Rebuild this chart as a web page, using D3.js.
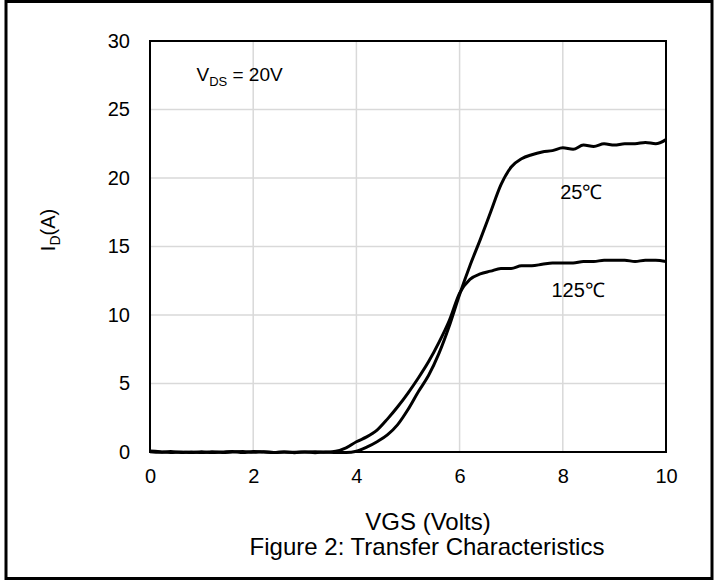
<!DOCTYPE html>
<html>
<head>
<meta charset="utf-8">
<script src="https://cdn.jsdelivr.net/npm/d3@7"></script>
<style>
body { margin: 0; background: #fff; }
svg text { font-family: "Liberation Sans", Arial, sans-serif; fill: #000; }
</style>
</head>
<body>
<div id="chart"></div>
<script>
// VGS sweep (Volts)
var vgs = [0, 0.2, 0.4, 0.6, 0.8, 1.0, 1.2, 1.4, 1.6, 1.8,
           2.0, 2.2, 2.4, 2.6, 2.8, 3.0, 3.2, 3.4, 3.6, 3.8,
           4.0, 4.2, 4.4, 4.6, 4.8, 5.0, 5.2, 5.4, 5.6, 5.8,
           6.0, 6.2, 6.4, 6.6, 6.8, 7.0, 7.2, 7.4, 7.6, 7.8,
           8.0, 8.2, 8.4, 8.6, 8.8, 9.0, 9.2, 9.4, 9.6, 9.8, 10.0];

// ID (A) at 25C
var id25 = [0.08, 0.02, -0.04, 0.0, -0.04, 0.02, -0.04, 0.0, 0.04, -0.04,
            0.04, 0.0, -0.04, 0.0, -0.05, 0.0, -0.05, 0.0, -0.04, -0.04,
            0.05, 0.35, 0.75, 1.25, 2.0, 3.1, 4.4, 5.6, 7.2, 9.2,
            11.5, 13.6, 15.5, 17.5, 19.5, 20.8, 21.4, 21.7, 21.9, 22.0,
            22.2, 22.1, 22.4, 22.3, 22.5, 22.4, 22.5, 22.5, 22.6, 22.5, 22.8];

// ID (A) at 125C
var id125 = [0.02, -0.02, 0.03, -0.03, 0.0, -0.04, 0.02, -0.03, 0.0, 0.03,
             -0.02, 0.02, -0.03, 0.0, -0.02, 0.0, 0.02, -0.02, 0.05, 0.3,
             0.75, 1.1, 1.6, 2.4, 3.3, 4.3, 5.4, 6.6, 8.0, 9.6,
             11.6, 12.6, 13.0, 13.2, 13.4, 13.4, 13.6, 13.6, 13.7, 13.8,
             13.8, 13.8, 13.9, 13.9, 14.0, 14.0, 14.0, 13.9, 14.0, 14.0, 13.9];

var xTicks = [0, 2, 4, 6, 8, 10];
var yTicks = [0, 5, 10, 15, 20, 25, 30];

var W = 715, H = 581;
var plotL = 150, plotR = 666, plotT = 41, plotB = 452;

var svg = d3.select("#chart").append("svg")
    .attr("width", W)
    .attr("height", H);

// outer frame
svg.append("rect")
    .attr("x", 6).attr("y", 1.5)
    .attr("width", 706).attr("height", 577)
    .attr("fill", "none")
    .attr("stroke", "#000")
    .attr("stroke-width", 3);

var x = d3.scaleLinear().domain([0, 10]).range([plotL, plotR]);
var y = d3.scaleLinear().domain([0, 30]).range([plotB, plotT]);

// grid
svg.append("g").selectAll("line")
    .data(xTicks)
    .enter().append("line")
    .attr("x1", function(d) { return x(d); })
    .attr("x2", function(d) { return x(d); })
    .attr("y1", plotT).attr("y2", plotB)
    .attr("stroke", "#d9d9d9")
    .attr("stroke-width", 1.5);

svg.append("g").selectAll("line")
    .data(yTicks)
    .enter().append("line")
    .attr("x1", plotL).attr("x2", plotR)
    .attr("y1", function(d) { return y(d); })
    .attr("y2", function(d) { return y(d); })
    .attr("stroke", "#d9d9d9")
    .attr("stroke-width", 1.5);

// axes (labels only)
var xAxis = svg.append("g")
    .attr("transform", "translate(0," + plotB + ")")
    .call(d3.axisBottom(x).tickValues(xTicks).tickSize(0).tickPadding(17));
var yAxis = svg.append("g")
    .attr("transform", "translate(" + plotL + ",0)")
    .call(d3.axisLeft(y).tickValues(yTicks).tickSize(0).tickPadding(20));
[xAxis, yAxis].forEach(function(a) {
    a.select(".domain").remove();
    a.selectAll("text")
        .attr("font-family", "Liberation Sans, Arial, sans-serif")
        .attr("font-size", 20)
        .attr("fill", "#000");
});

// plot frame
svg.append("rect")
    .attr("x", plotL).attr("y", plotT)
    .attr("width", plotR - plotL).attr("height", plotB - plotT)
    .attr("fill", "none")
    .attr("stroke", "#000")
    .attr("stroke-width", 2);

// curves
var line = d3.line()
    .x(function(d, i) { return x(vgs[i]); })
    .y(function(d) { return y(d); })
    .curve(d3.curveMonotoneX);

[id25, id125].forEach(function(s) {
    svg.append("path")
        .datum(s)
        .attr("d", line)
        .attr("fill", "none")
        .attr("stroke", "#000")
        .attr("stroke-width", 3)
        .attr("stroke-linejoin", "round");
});

// annotations
var vds = svg.append("text")
    .attr("x", x(0.9)).attr("y", y(27.1))
    .attr("font-size", 19);
vds.append("tspan").text("V");
vds.append("tspan").attr("font-size", 13).attr("dy", 5).text("DS");
vds.append("tspan").attr("dy", -5).text(" = 20V");

svg.append("text")
    .attr("x", x(7.95)).attr("y", y(18.5))
    .attr("font-size", 20)
    .text("25℃");

svg.append("text")
    .attr("x", x(7.78)).attr("y", y(11.3))
    .attr("font-size", 20)
    .text("125℃");

// titles
svg.append("text")
    .attr("x", 428).attr("y", 530)
    .attr("text-anchor", "middle")
    .attr("font-size", 24)
    .text("VGS (Volts)");

svg.append("text")
    .attr("x", 427).attr("y", 555)
    .attr("text-anchor", "middle")
    .attr("font-size", 24)
    .text("Figure 2: Transfer Characteristics");

var yl = svg.append("text")
    .attr("transform", "translate(55,230) rotate(-90)")
    .attr("text-anchor", "middle")
    .attr("font-size", 20);
yl.append("tspan").text("I");
yl.append("tspan").attr("font-size", 14).attr("dy", 5).text("D");
yl.append("tspan").attr("dy", -5).text("(A)");
</script>
</body>
</html>
